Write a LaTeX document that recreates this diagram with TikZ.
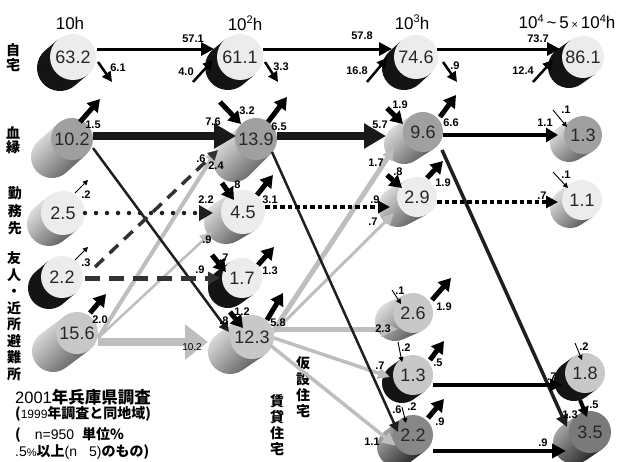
\documentclass[tikz,border=0pt]{standalone}
\usepackage{fontspec}
\setmainfont{Liberation Sans}
\newfontfamily\jp{Noto Sans CJK JP}
\usetikzlibrary{arrows.meta,calc}
\definecolor{lg}{RGB}{190,190,190}
\definecolor{fl}{RGB}{236,236,236}
\definecolor{fm}{RGB}{160,160,160}
\definecolor{fs}{RGB}{200,200,200}
\definecolor{fd}{RGB}{135,135,135}
\definecolor{fe}{RGB}{122,122,122}
\newcommand\hsup[1]{\raisebox{6.5pt}{\fontsize{11}{11}\selectfont #1}}
\newcommand\cyl[9]{%
  \pgfmathsetmacro\cylphi{atan2(#6,#5)}%
  \path[#8] (#2,#3) ++(\cylphi+90:#4) -- ++(#5,#6) arc[start angle=\cylphi+90, end angle=\cylphi-90, radius=#4] -- ++({-1*(#5)},{-1*(#6)}) -- cycle;
  \node[face, fill=#7, minimum size=2*#4] (#1) at (#2,#3) {#9};
}
\tikzset{
  face/.style={circle, inner sep=0pt, text=black!85, font=\fontsize{18}{18}\selectfont},
  gb/.style={top color=black!8, bottom color=black!65, shading angle=45},
  db/.style={top color=black!30, bottom color=black!88, shading angle=45},
  kb/.style={fill=black!92},
  lab/.style={inner sep=0pt, font=\bfseries\fontsize{11}{11}\selectfont},
  hdr/.style={inner sep=0pt, font=\fontsize{17}{17}\selectfont},
  vt/.style={inner sep=0pt, align=center, font=\jp\bfseries\fontsize{14}{15}\selectfont},
  note/.style={inner sep=0pt, anchor=west},
  tk/.style={line width=5pt, draw=black, -{Triangle[length=12pt,width=14pt]}},
  sm/.style={line width=2.5pt, draw=black, -{Triangle[length=10pt,width=10pt]}},
  tn/.style={line width=0.9pt, draw=black, -{Triangle[length=5pt,width=5pt]}},
  rowl/.style={line width=3pt, draw=black, -{Triangle[length=13pt,width=13pt]}},
  band/.style={line width=8pt, draw=black!90, -{Triangle[length=22pt,width=24pt]}},
  diag/.style={line width=2.5pt, draw=black!88, -{Triangle[length=10pt,width=10pt]}},
  gband/.style={line width=8pt, draw=lg, -{Triangle[length=23pt,width=34pt]}},
  gl/.style={line width=#1, draw=lg, -{Triangle[length=12pt,width=11pt]}},
  rdots/.style={line width=4.5pt, draw=black!88, line cap=round, dash pattern=on 0pt off 11pt, -{Triangle[length=14pt,width=15pt]}},
  sqdots/.style={line width=4pt, draw=black, dash pattern=on 4.5pt off 3pt, -{Triangle[length=12pt,width=12pt]}},
  dsh/.style={line width=5pt, draw=black!80, dash pattern=on 15pt off 9pt, -{Triangle[length=12pt,width=12pt]}},
  dshd/.style={line width=3.5pt, draw=black!80, dash pattern=on 12pt off 8pt, -{Triangle[length=10pt,width=10pt]}}
}
\begin{document}
\begin{tikzpicture}[x=1pt,y=-1pt]
\useasboundingbox[fill=white] (0,0) rectangle (626,461);
% headers
\node[hdr] (h1) at (70,23) {10h};
\node[hdr] (h2) at (245,23) {10\hsup{2}h};
\node[hdr] (h3) at (412,22) {10\hsup{3}h};
\node[hdr] (h4) at (567,22) {10\hsup{4}\,\textasciitilde\,5\,{\fontsize{11}{11}\selectfont ×}\,10\hsup{4}h};
% row labels
\node[vt] (v1) at (13,58) {自\\宅};
\node[vt, font=\jp\bfseries\fontsize{14}{14.5}\selectfont] (v2) at (13,140) {血\\縁};
\node[vt, font=\jp\bfseries\fontsize{14}{17.5}\selectfont] (v3) at (15,211) {勤\\務\\先};
\node[vt, font=\jp\bfseries\fontsize{14}{16.5}\selectfont] (v4) at (14,316) {友\\人\\・\\近\\所\\避\\難\\所};
\node[vt, font=\jp\bfseries\fontsize{14}{16}\selectfont] (v5) at (303,387) {仮\\設\\住\\宅};
\node[vt, font=\jp\bfseries\fontsize{14}{16}\selectfont] (v6) at (277,425) {賃\\貸\\住\\宅};
% cylinders
\cyl{A1}{73}{57}{23}{-13}{11}{fl}{kb}{63.2}
\cyl{B1}{72}{139}{21}{-20}{18}{fm}{gb}{10.2}
\cyl{C1}{63}{213}{22}{-14}{11}{fl}{gb}{2.5}
\cyl{D1}{62}{277}{21}{-13}{11}{fl}{kb}{2.2}
\cyl{E1}{77}{333}{21}{-24}{18}{fs}{gb}{15.6}
\cyl{A2}{240}{57}{23}{-12}{10}{fl}{kb}{61.1}
\cyl{B2}{256}{139}{21}{-22}{22}{fm}{gb}{13.9}
\cyl{C2}{243}{212}{22}{-17}{10}{fl}{gb}{4.5}
\cyl{D2}{242}{278}{20}{-14}{10}{fl}{kb}{1.7}
\cyl{E2}{252}{337}{22}{-22}{15}{fs}{gb}{12.3}
\cyl{A3}{416}{57}{22}{-12}{11}{fl}{kb}{74.6}
\cyl{B3}{423}{132}{20}{-19}{12}{fm}{gb}{9.6}
\cyl{C3}{417}{197}{20}{-19}{10}{fl}{gb}{2.9}
\cyl{E3a}{413}{313}{20}{-18}{8}{fs}{gb}{2.6}
\cyl{E3b}{413}{375}{20}{-11}{8}{fs}{kb}{1.3}
\cyl{E3c}{413}{435}{20}{-16}{12}{fd}{db}{2.2}
\cyl{A4}{583}{57}{21}{-14}{10}{fl}{kb}{86.1}
\cyl{B4}{583}{135}{19}{-14}{8}{fm}{gb}{1.3}
\cyl{C4}{582}{200}{20}{-12}{8}{fl}{gb}{1.1}
\cyl{E4a}{585}{373}{20}{-11}{8}{fs}{kb}{1.8}
\cyl{E4b}{590}{432}{21}{-16}{11}{fe}{db}{3.5}
% gray connectors
\draw[gband] ($(E1)+(21,9)$) -- ($(E2)+(-44,5)$);
\draw[gl=4pt] ($(E1)+(21,5)$) -- ($(B2)+(-39,11)$);
\draw[gl=2.5pt] ($(E1)+(21,5)$) -- ($(C2)+(-31,20)$);
\draw[gl=5pt] ($(E2)+(22,-7)$) -- ($(B3)+(-29,16)$);
\draw[gl=3pt] ($(E2)+(22,-5)$) -- ($(C3)+(-23,16)$);
\draw[line width=5pt, draw=lg, -{Triangle[length=17pt,width=15pt]}] ($(E2)+(22,-8)$) -- ($(E3a)+(-15,16)$);
\draw[gl=3.5pt] ($(E2)+(22,1)$) -- ($(E3b)+(-23,2)$);
\draw[line width=3.5pt, draw=lg, -{Triangle[length=14pt,width=12pt]}] ($(E2)+(18,8)$) -- ($(E3c)+(-17,11)$);
% row 1
\draw[rowl] ($(A1)+(24,-8)$) -- ($(A2)+(-26,-8)$);
\draw[sm] ($(A1)+(25,5)$) -- ($(A1)+(39,25)$);
\draw[sm] ($(A2)+(-47,25)$) -- ($(A2)+(-27,3)$);
\draw[sm] ($(A2)+(25,5)$) -- ($(A2)+(38,25)$);
\draw[rowl] ($(A2)+(23,-8)$) -- ($(A3)+(-24,-8)$);
\draw[sm] ($(A3)+(-49,25)$) -- ($(A3)+(-29,1)$);
\draw[sm] ($(A3)+(27,5)$) -- ($(A3)+(41,25)$);
\draw[rowl] ($(A3)+(21,-8)$) -- ($(A4)+(-23,-8)$);
\draw[sm] ($(A4)+(-50,25)$) -- ($(A4)+(-30,3)$);
% row 2
\draw[band] ($(B1)+(21,-3)$) -- ($(B2)+(-20,-3)$);
\draw[tk] ($(B1)+(8,-17)$) -- ($(B1)+(28,-40)$);
\draw[diag] ($(B1)+(21,9)$) -- ($(E2)+(-23,-5)$);
\draw[tk] ($(B2)+(-36,-37)$) -- ($(B2)+(-15,-15)$);
\draw[tk] ($(B2)+(12,-17)$) -- ($(B2)+(31,-42)$);
\draw[band] ($(B2)+(21,-3)$) -- ($(B3)+(-37,4)$);
\draw[tk] ($(B3)+(-36,-24)$) -- ($(B3)+(-20,-8)$);
\draw[tk] ($(B3)+(17,-15)$) -- ($(B3)+(33,-37)$);
\draw[line width=3.5pt, -{Triangle[length=12pt,width=14pt]}] ($(B3)+(20,3)$) -- ($(B4)+(-25,0)$);
\draw[tn] ($(B4)+(-30,-25)$) -- ($(B4)+(-16,-8)$);
\draw[diag] ($(B2)+(16,13)$) -- ($(E3c)+(-15,-3)$);
\draw[diag, line width=3.5pt, -{Triangle[length=12pt,width=12pt]}] ($(B3)+(19,18)$) -- ($(E4b)+(-23,-5)$);
% row 3
\draw[tn] ($(C1)+(12,-20)$) -- ($(C1)+(25,-33)$);
\draw[rdots] ($(C1)+(22,0)$) -- ($(C2)+(-30,1)$);
\draw[tk] ($(C2)+(-21,-29)$) -- ($(C2)+(-9,-12)$);
\draw[tk] ($(C2)+(14,-17)$) -- ($(C2)+(30,-37)$);
\draw[sqdots] ($(C2)+(22,-5)$) -- ($(C3)+(-27,10)$);
\draw[tk] ($(C3)+(-30,-22)$) -- ($(C3)+(-15,-9)$);
\draw[tk] ($(C3)+(10,-19)$) -- ($(C3)+(26,-36)$);
\draw[sqdots] ($(C3)+(20,5)$) -- ($(C4)+(-24,2)$);
\draw[tn] ($(C4)+(-29,-28)$) -- ($(C4)+(-14,-12)$);
% row 4
\draw[tn] ($(D1)+(13,-17)$) -- ($(D1)+(26,-30)$);
\draw[dsh] ($(D1)+(23,1)$) -- ($(D2)+(-22,0)$);
\draw[dshd] ($(D1)+(33,-10)$) -- ($(B2)+(-38,11)$);
\draw[tk] ($(D2)+(-30,-23)$) -- ($(D2)+(-16,-6)$);
\draw[tk] ($(D2)+(16,-13)$) -- ($(D2)+(32,-31)$);
% row 5
\draw[tk] ($(E1)+(13,-20)$) -- ($(E1)+(29,-39)$);
\draw[tk] ($(E2)+(-22,-25)$) -- ($(E2)+(-9,-9)$);
\draw[tk] ($(E2)+(15,-17)$) -- ($(E2)+(31,-44)$);
\draw[tn] ($(E3a)+(-21,-23)$) -- ($(E3a)+(-12,-9)$);
\draw[tk] ($(E3a)+(19,-13)$) -- ($(E3a)+(38,-35)$);
\draw[tn] ($(E3a)+(-15,29)$) -- ($(E3b)+(-11,-13)$);
\draw[tk] ($(E3b)+(17,-15)$) -- ($(E3b)+(31,-34)$);
\draw[line width=3.5pt, -{Triangle[length=12pt,width=12pt]}] ($(E3b)+(20,10)$) -- ($(E4a)+(-23,12)$);
\draw[tn] ($(E3c)+(-11,-28)$) -- ($(E3c)+(-7,-12)$);
\draw[tk] ($(E3c)+(15,-17)$) -- ($(E3c)+(31,-36)$);
\draw[line width=4pt, -{Triangle[length=14pt,width=14pt]}] ($(E3c)+(20,16)$) -- ($(E4b)+(-24,19)$);
\draw[tn] ($(E4a)+(-10,-30)$) -- ($(E4a)+(-3,-13)$);
\draw[line width=4pt, -{Triangle[length=10pt,width=11pt]}] ($(E4a)+(-5,27)$) -- ($(E4b)+(-3,-15)$);
% labels
\node[lab] (l1) at (193,39) {57.1};
\node[lab] (l2) at (118,68) {6.1};
\node[lab] (l3) at (186,72) {4.0};
\node[lab] (l4) at (281,67) {3.3};
\node[lab] (l5) at (362,36) {57.8};
\node[lab] (l6) at (357,71) {16.8};
\node[lab] (l7) at (455,66) {.9};
\node[lab] (l8) at (538,39) {73.7};
\node[lab] (l9) at (523,71) {12.4};
\node[lab] (l10) at (213,122) {7.6};
\node[lab] (l11) at (93,125) {1.5};
\node[lab] (l12) at (224,321) {.8};
\node[lab] (l13) at (247,111) {3.2};
\node[lab] (l14) at (279,127) {6.5};
\node[lab] (l15) at (380,125) {5.7};
\node[lab] (l16) at (400,105) {1.9};
\node[lab] (l17) at (451,123) {6.6};
\node[lab] (l18) at (545,123) {1.1};
\node[lab] (l19) at (566,110) {.1};
\node[lab] (l20) at (397,410) {.6};
\node[lab] (l21) at (570,415) {1.3};
\node[lab] (l22) at (86,195) {.2};
\node[lab] (l23) at (206,200) {2.2};
\node[lab] (l24) at (236,185) {.8};
\node[lab] (l25) at (270,200) {3.1};
\node[lab] (l26) at (375,200) {.9};
\node[lab] (l27) at (398,172) {.8};
\node[lab] (l28) at (443,183) {1.9};
\node[lab] (l29) at (542,196) {.7};
\node[lab] (l30) at (566,175) {.1};
\node[lab] (l31) at (86,263) {.3};
\node[lab] (l32) at (200,270) {.9};
\node[lab] (l33) at (201,159) {.6};
\node[lab] (l34) at (224,258) {.7};
\node[lab] (l35) at (270,271) {1.3};
\node[lab] (l36) at (100,320) {2.0};
\node[inner sep=0pt, font=\fontsize{10}{10}\selectfont] (l37) at (192,347) {10.2};
\node[lab] (l38) at (216,166) {2.4};
\node[lab] (l39) at (207,240) {.9};
\node[lab] (l40) at (242,312) {1.2};
\node[lab] (l41) at (278,323) {5.8};
\node[lab] (l42) at (376,163) {1.7};
\node[lab] (l43) at (373,222) {.7};
\node[lab] (l44) at (383,329) {2.3};
\node[lab] (l45) at (380,366) {.7};
\node[lab] (l46) at (372,442) {1.1};
\node[lab] (l47) at (400,291) {.1};
\node[lab] (l48) at (444,307) {1.9};
\node[lab] (l49) at (406,348) {.2};
\node[lab] (l50) at (438,363) {.5};
\node[lab] (l51) at (552,377) {.7};
\node[lab] (l52) at (412,407) {.2};
\node[lab] (l53) at (440,422) {.9};
\node[lab] (l54) at (543,443) {.9};
\node[lab] (l55) at (584,347) {.2};
\node[lab] (l56) at (594,405) {.5};
% notes
\node[note] (n1) at (15,397) {\fontsize{16.5}{16.5}\selectfont 2001{\jp\bfseries 年兵庫県調査}};
\node[note] (n2) at (15,414) {\fontsize{14}{14}\selectfont{\jp\bfseries (}{\fontsize{12}{12}\selectfont 1999}{\jp\bfseries 年調査と同地域)}};
\node[note] (n3) at (15,435) {\fontsize{14}{14}\selectfont{\jp\bfseries (}\hspace{14pt}n=950\hspace{8pt}{\jp\bfseries 単位\%}};
\node[note] (n4) at (15,452) {\fontsize{14}{14}\selectfont .5{\fontsize{11}{11}\selectfont\%}{\jp\bfseries 以上}(n\hspace{12pt}5){\jp\bfseries のもの)}};
\end{tikzpicture}
\end{document}
